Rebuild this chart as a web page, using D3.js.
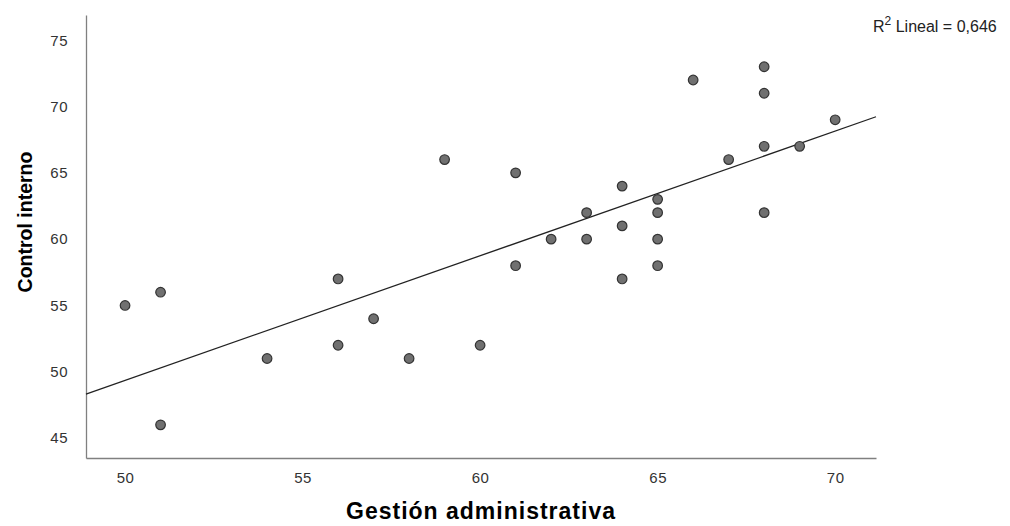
<!DOCTYPE html>
<meta charset="utf-8">
<style>
body { margin: 0; background: #fff; }
.axis text { font: 15px "Liberation Sans", Arial, sans-serif; fill: #333; letter-spacing: 0.5px; }
.axis path { stroke: #808080; stroke-width: 1.3; fill: none; }
.xlabel { font: bold 23px "Liberation Sans", Arial, sans-serif; fill: #000; letter-spacing: 1px; }
.ylabel { font: bold 19.5px "Liberation Sans", Arial, sans-serif; fill: #000; }
.r2 { font: 16px "Liberation Sans", Arial, sans-serif; fill: #222; }
</style>
<body>
<script src="https://cdn.jsdelivr.net/npm/d3@7"></script>
<script>

// Gestión administrativa (x) vs Control interno (y)
var gestion = [50, 51, 51, 54, 56, 56, 57, 58, 59, 60,
               61, 61, 62, 63, 63, 64, 64, 64, 65, 65,
               65, 65, 66, 67, 68, 68, 68, 68, 69, 70];
var control = [55, 56, 46, 51, 57, 52, 54, 51, 66, 52,
               65, 58, 60, 62, 60, 64, 61, 57, 63, 62,
               60, 58, 72, 66, 73, 71, 67, 62, 67, 69];
var xTicks = [50, 55, 60, 65, 70];
var yTicks = [45, 50, 55, 60, 65, 70, 75];
var r2Label = "0,646";

var width = 1010, height = 526;
var m = {left: 86, right: 876, top: 15, bottom: 458};

var svg = d3.select("body").append("svg")
    .attr("width", width)
    .attr("height", height);

var x = d3.scaleLinear().domain([48.9, 71.15]).range([m.left, m.right]);
var y = d3.scaleLinear().domain([43.5, 76.9]).range([m.bottom, m.top]);

svg.append("g")
    .attr("class", "axis")
    .attr("transform", "translate(0," + m.bottom + ")")
    .call(d3.axisBottom(x).tickValues(xTicks).tickSize(0).tickPadding(14))
    .call(function(g) { g.selectAll(".tick line").remove(); });

svg.append("g")
    .attr("class", "axis")
    .attr("transform", "translate(" + m.left + ",0)")
    .call(d3.axisLeft(y).tickValues(yTicks).tickSize(0).tickPadding(18))
    .call(function(g) { g.selectAll(".tick line").remove(); });

// least squares fit
var pts = gestion.map(function(g, i) { return [g, control[i]]; });
var mx = d3.mean(gestion), my = d3.mean(control);
var sxy = d3.sum(pts, function(p) { return (p[0] - mx) * (p[1] - my); });
var sxx = d3.sum(pts, function(p) { return (p[0] - mx) * (p[0] - mx); });
var slope = sxy / sxx, icpt = my - slope * mx;
var x0 = x.domain()[0], x1 = x.domain()[1];

svg.append("line")
    .attr("x1", x(x0)).attr("y1", y(icpt + slope * x0))
    .attr("x2", x(x1)).attr("y2", y(icpt + slope * x1))
    .attr("stroke", "#222")
    .attr("stroke-width", 1.3);

svg.selectAll("circle")
    .data(pts)
  .enter().append("circle")
    .attr("cx", function(d) { return x(d[0]); })
    .attr("cy", function(d) { return y(d[1]); })
    .attr("r", 4.8)
    .attr("fill", "#707070")
    .attr("stroke", "#333")
    .attr("stroke-width", 1.2);

svg.append("text")
    .attr("class", "xlabel")
    .attr("text-anchor", "middle")
    .attr("x", (m.left + m.right) / 2)
    .attr("y", 519)
    .text("Gestión administrativa");

svg.append("text")
    .attr("class", "ylabel")
    .attr("text-anchor", "middle")
    .attr("transform", "translate(32,222) rotate(-90)")
    .text("Control interno");

var r2 = svg.append("text")
    .attr("class", "r2")
    .attr("x", 873)
    .attr("y", 32);
r2.append("tspan").text("R");
r2.append("tspan").attr("dy", -7).attr("font-size", 12).text("2");
r2.append("tspan").attr("dy", 7).text(" Lineal = " + r2Label);

</script>
</body>
